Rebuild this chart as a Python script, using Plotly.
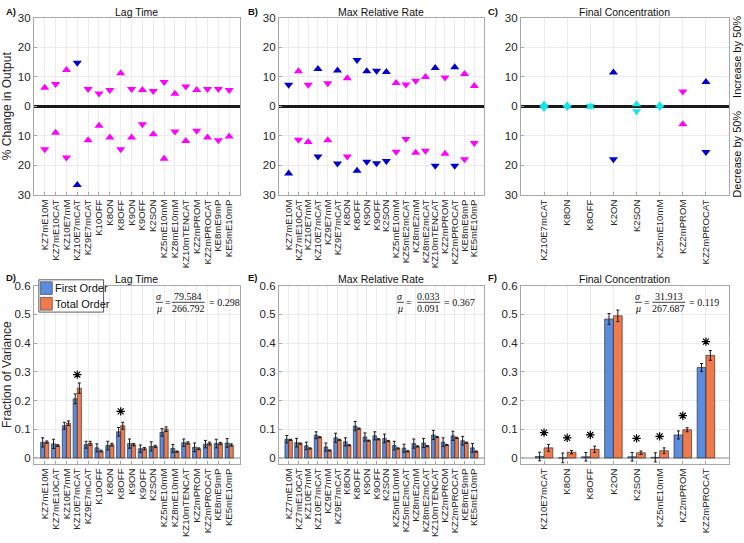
import plotly.graph_objects as go

W, H = 744, 543

# ---------------- data ----------------
cats_A = ["KZ7mE10M", "KZ7mE10CAT", "KZ10E7mM", "KZ10E7mCAT", "KZ9E7mCAT", "K10OFF", "K8ON", "K8OFF",
          "K9ON", "K9OFF", "K2SON", "KZ5mE10mM", "KZ8mE10mM", "KZ10mTENCAT", "KZ2mPROM", "KZ2mPROCAT",
          "KE8mE9mP", "KE5mE10mP"]
A_inc = [6.3, 7.5, 12.3, 14.7, 5.8, 4.3, 5.5, 11.2, 5.8, 5.5, 5.2, 8.2, 4.2, 6.7, 5.5, 5.8, 5.8, 5.5]
A_inc_dir = [1, -1, 1, -1, -1, -1, -1, 1, -1, 1, -1, -1, 1, -1, 1, -1, -1, -1]
A_inc_cls = ["M", "M", "M", "B", "M", "M", "M", "M", "M", "M", "M", "M", "M", "M", "M", "M", "M", "M"]
A_dec = [14.6, 9.0, 17.4, 26.7, 11.5, 6.6, 10.6, 14.6, 10.6, 6.1, 9.5, 17.8, 8.6, 11.8, 8.3, 10.6, 11.5, 10.3]
A_dec_dir = [-1, 1, -1, 1, 1, 1, 1, -1, 1, -1, 1, 1, -1, 1, -1, 1, -1, 1]
A_dec_cls = ["M", "M", "M", "B", "M", "M", "M", "M", "M", "M", "M", "M", "M", "M", "M", "M", "M", "M"]

cats_B = ["KZ7mE10M", "KZ7mE10CAT", "KZ10E7mM", "KZ10E7mCAT", "KZ9E7mM", "KZ9E7mCAT", "K8ON", "K8OFF",
          "K9ON", "K9OFF", "K2SON", "KZ5mE10mM", "KZ5mE2mCAT", "KZ8mE2mM", "KZ8mE2mCAT", "KZ10mTENCAT",
          "KZ2mPROM", "KZ2mPROCAT", "KE8mE9mP", "KE5mE10mP"]
B_inc = [7.3, 11.9, 7.3, 12.6, 7.8, 12.1, 9.5, 15.7, 11.9, 12.0, 11.6, 7.9, 7.4, 8.6, 9.9, 13.0, 9.7, 13.2, 10.9, 6.9]
B_inc_dir = [-1, 1, -1, 1, -1, 1, 1, -1, 1, -1, 1, 1, -1, -1, 1, 1, -1, 1, 1, 1]
B_cls = ["B", "M", "M", "B", "M", "B", "M", "B", "B", "B", "B", "M", "M", "M", "M", "B", "M", "B", "M", "M"]
B_dec = [22.8, 11.4, 12.1, 17.0, 11.5, 19.4, 17.0, 21.9, 18.8, 19.3, 18.6, 15.4, 11.1, 15.8, 15.1, 20.2, 16.1, 20.2, 18.0, 12.5]
B_dec_dir = [1, -1, 1, -1, 1, -1, -1, 1, -1, -1, -1, -1, -1, 1, -1, -1, 1, -1, -1, -1]

cats_C = ["KZ10E7mCAT", "K8ON", "K8OFF", "K2ON", "K2SON", "KZ5mE10mM", "KZ2mPROM", "KZ2mPROCAT"]
C_inc = [0.6, 0.3, 0.2, 11.4, 0.7, 0.3, 5.0, 8.2]
C_inc_dir = [1, 1, -1, 1, 1, 1, -1, 1]
C_inc_cls = ["C", "C", "C", "B", "C", "C", "M", "B"]
C_dec = [0.6, 0.3, 0.2, 18.0, 1.7, 0.3, 6.1, 15.5]
C_dec_dir = [-1, -1, 1, -1, -1, -1, 1, -1]
C_dec_cls = ["C", "C", "C", "B", "C", "C", "M", "B"]

D_first = [0.054, 0.049, 0.112, 0.206, 0.046, 0.035, 0.043, 0.091, 0.050, 0.032, 0.040, 0.089, 0.033, 0.053, 0.037, 0.048, 0.050, 0.052]
D_first_err = [0.016, 0.016, 0.012, 0.017, 0.012, 0.014, 0.015, 0.015, 0.016, 0.013, 0.016, 0.013, 0.014, 0.013, 0.015, 0.013, 0.015, 0.015]
D_total = [0.055, 0.043, 0.121, 0.243, 0.051, 0.024, 0.046, 0.112, 0.046, 0.032, 0.040, 0.100, 0.022, 0.052, 0.032, 0.050, 0.050, 0.045]
D_total_err = [0.004, 0.003, 0.008, 0.018, 0.007, 0.003, 0.005, 0.012, 0.004, 0.004, 0.004, 0.008, 0.002, 0.004, 0.003, 0.005, 0.004, 0.004]
D_star = [None, None, None, 0.29, None, None, None, 0.162, None, None, None, None, None, None, None, None, None, None]

E_first = [0.065, 0.053, 0.042, 0.079, 0.038, 0.070, 0.056, 0.111, 0.073, 0.077, 0.068, 0.043, 0.034, 0.050, 0.052, 0.080, 0.055, 0.077, 0.060, 0.035]
E_first_err = [0.013, 0.015, 0.013, 0.012, 0.014, 0.016, 0.014, 0.016, 0.014, 0.014, 0.015, 0.015, 0.014, 0.016, 0.016, 0.016, 0.015, 0.016, 0.015, 0.015]
E_total = [0.063, 0.050, 0.033, 0.072, 0.026, 0.063, 0.044, 0.102, 0.060, 0.065, 0.059, 0.033, 0.023, 0.040, 0.041, 0.073, 0.045, 0.070, 0.053, 0.022]
E_total_err = [0.002] * 20

F_first = [0.005, 0.000, 0.004, 0.484, 0.004, 0.002, 0.080, 0.315]
F_first_err = [0.015, 0.017, 0.015, 0.019, 0.015, 0.016, 0.014, 0.014]
F_total = [0.035, 0.020, 0.030, 0.495, 0.018, 0.025, 0.098, 0.357]
F_total_err = [0.012, 0.006, 0.011, 0.020, 0.006, 0.010, 0.007, 0.017]
F_star = [0.088, 0.070, 0.080, None, 0.068, 0.075, 0.147, 0.405]

stats = {"D": ("79.584", "266.792", "0.298"), "E": ("0.033", "0.091", "0.367"), "F": ("31.913", "267.687", "0.119")}

top_ticks = [-30, -20, -10, 0, 10, 20, 30]
top_tick_text = ["30", "20", "10", "0", "10", "20", "30"]
bot_ticks = [0, 0.1, 0.2, 0.3, 0.4, 0.5, 0.6]
bot_tick_text = ["0", "0.1", "0.2", "0.3", "0.4", "0.5", "0.6"]

# ---------------- styling ----------------
COL = {"M": "#FF00FF", "B": "#0000D0", "C": "#10E6EC"}
BLUE = "#5B8CDE"
ORANGE = "#EF7A4C"
FONT = "Liberation Sans, Arial, sans-serif"
SERIF = "Liberation Serif, DejaVu Serif, serif"
TXT = "#262626"
FRAME = "#a8a8a8"
GRID = "#ececec"


def px(x):
    return x / W


def py(y):
    return 1 - y / H


cols_x = [(31, 238), (277, 483), (520, 729)]
top_y = (12, 193)
bot_y = (286, 468)

fig = go.Figure()


def sym(d):
    return ["triangle-up" if v > 0 else "triangle-down" for v in d]


def add_scatter(ax, cats, vals, dirs, cls, sign):
    fig.add_trace(go.Scatter(
        x=cats, y=[sign * v for v in vals], mode="markers",
        marker=dict(symbol=sym(dirs), size=8, color=[COL[c] for c in cls], line=dict(width=0)),
        xaxis="x" + ax, yaxis="y" + ax, showlegend=False, hoverinfo="x+y"))


add_scatter("", cats_A, A_inc, A_inc_dir, A_inc_cls, 1)
add_scatter("", cats_A, A_dec, A_dec_dir, A_dec_cls, -1)
add_scatter("2", cats_B, B_inc, B_inc_dir, B_cls, 1)
add_scatter("2", cats_B, B_dec, B_dec_dir, B_cls, -1)
add_scatter("3", cats_C, C_inc, C_inc_dir, C_inc_cls, 1)
add_scatter("3", cats_C, C_dec, C_dec_dir, C_dec_cls, -1)


def add_bars(ax, cats, first, ferr, total, terr, star):
    for vals, errs, col, name in ((first, ferr, BLUE, "First Order"), (total, terr, ORANGE, "Total Order")):
        fig.add_trace(go.Bar(
            x=cats, y=vals, name=name, marker=dict(color=col, line=dict(color="#202020", width=0.6)),
            error_y=dict(type="data", array=errs, visible=True, color="#1a1a1a", thickness=1, width=1.5),
            xaxis="x" + ax, yaxis="y" + ax, showlegend=False, offsetgroup=name))
    if star is not None:
        fig.add_trace(go.Scatter(
            x=cats, y=star, mode="markers",
            marker=dict(symbol="asterisk-open", size=7, color="black", line=dict(width=1.2, color="black")),
            xaxis="x" + ax, yaxis="y" + ax, showlegend=False, hoverinfo="skip"))


add_bars("4", cats_A, D_first, D_first_err, D_total, D_total_err, D_star)
add_bars("5", cats_B, E_first, E_first_err, E_total, E_total_err, None)
add_bars("6", cats_C, F_first, F_first_err, F_total, F_total_err, F_star)

layout = dict(
    width=W, height=H, margin=dict(l=0, r=0, t=0, b=0),
    paper_bgcolor="white", plot_bgcolor="white",
    font=dict(family=FONT, color=TXT, size=11),
    barmode="group", bargap=0.24, bargroupgap=0.0,
)

all_cats = [cats_A, cats_B, cats_C]
for i in range(6):
    row = i // 3
    col = i % 3
    key = "" if i == 0 else str(i + 1)
    cats = all_cats[col]
    x0, x1 = cols_x[col]
    y0, y1 = top_y if row == 0 else bot_y
    layout["xaxis" + key] = dict(
        domain=[px(x0), px(x1)], anchor="y" + key, type="category",
        categoryorder="array", categoryarray=cats, range=[-1, len(cats)],
        tickmode="array", tickvals=cats, ticktext=cats,
        tickangle=-90, tickfont=dict(size=9.6, color=TXT), showgrid=True, gridcolor=GRID, gridwidth=1,
        showline=True, mirror=True, linecolor=FRAME, linewidth=1,
        ticks="inside", ticklen=3, tickcolor=FRAME, zeroline=False, fixedrange=True)
    if row == 0:
        ya = dict(range=[-30, 30], tickvals=top_ticks, ticktext=top_tick_text,
                  zeroline=True, zerolinecolor="#1a1a1a", zerolinewidth=2.5)
    else:
        ya = dict(range=[-0.02, 0.6], tickvals=bot_ticks, ticktext=bot_tick_text,
                  zeroline=True, zerolinecolor="#c4c4c4", zerolinewidth=2)
    ya.update(domain=[py(y1), py(y0)], anchor="x" + key, tickfont=dict(size=11.5, color=TXT),
              showgrid=True, gridcolor=GRID, gridwidth=1, showline=True, mirror=True,
              linecolor=FRAME, linewidth=1, ticks="inside", ticklen=3, tickcolor=FRAME, fixedrange=True)
    if i == 0:
        ya["title"] = dict(text="% Change in Output", font=dict(size=12, color=TXT), standoff=6)
    if i == 3:
        ya["title"] = dict(text="Fraction of Variance", font=dict(size=12, color=TXT), standoff=6)
    layout["yaxis" + key] = ya

fig.update_layout(**layout)

ann = []
shapes = []


def text(x, y, s, size=11, xanchor="center", family=FONT, angle=0, bold=False):
    ann.append(dict(x=px(x), y=py(y), xref="paper", yref="paper", text=("<b>%s</b>" % s) if bold else s,
                    showarrow=False, xanchor=xanchor, yanchor="middle", textangle=angle,
                    font=dict(size=size, family=family, color="#111111")))


titles = ["Lag Time", "Max Relative Rate", "Final Concentration"]
for col in range(3):
    x0, x1 = cols_x[col]
    text((x0 + x1) / 2, 6, titles[col], size=10.5)
    text((x0 + x1) / 2, 279, titles[col], size=10.5)

for lab, (x, y) in zip("ABCDEF", [(1, 6), (244, 6), (485, 6), (1, 278), (244, 278), (485, 278)]):
    text(x, y, lab + ")", size=9.5, xanchor="left", bold=True)

text(737, 52, "Increase by 50%", size=11, angle=-90)
text(737, 152, "Decrease by 50%", size=11, angle=-90)


def line(x0, y0, x1, y1, color="#111111", w=0.8):
    shapes.append(dict(type="line", xref="paper", yref="paper", x0=px(x0), y0=py(y0), x1=px(x1), y1=py(y1),
                       line=dict(color=color, width=w)))


def formula(xs, xeq1, xnum, half, key):
    num, den, res = stats[key]
    fs = 10
    text(xs, 297, "<i>σ</i>", size=fs, family=SERIF)
    text(xs, 309, "<i>μ</i>", size=fs, family=SERIF)
    line(xs - 3.5, 303, xs + 3.5, 303)
    text(xeq1, 303, "=", size=fs, family=SERIF)
    text(xnum, 297, num, size=fs, family=SERIF)
    text(xnum, 309, den, size=fs, family=SERIF)
    line(xnum - half, 303, xnum + half, 303)
    text(xnum + half + 2, 303, "= " + res, size=fs, family=SERIF, xanchor="left")


formula(157, 165.5, 186, 16.5, "D")
formula(399, 408, 427.5, 11.5, "E")
formula(638, 647, 668.5, 16.5, "F")

# legend box for panel D
shapes.append(dict(type="rect", xref="paper", yref="paper", x0=px(36), y0=py(313), x1=px(101), y1=py(280),
                   line=dict(color="#333333", width=0.8), fillcolor="white"))
shapes.append(dict(type="rect", xref="paper", yref="paper", x0=px(37.5), y0=py(295), x1=px(49.5), y1=py(282),
                   line=dict(color="#333333", width=0.6), fillcolor=BLUE))
shapes.append(dict(type="rect", xref="paper", yref="paper", x0=px(37.5), y0=py(311), x1=px(49.5), y1=py(298),
                   line=dict(color="#333333", width=0.6), fillcolor=ORANGE))
text(50.5, 288.5, "First Order", size=11, xanchor="left")
text(50.5, 304.5, "Total Order", size=11, xanchor="left")

fig.update_layout(annotations=ann, shapes=shapes)
# remove the default page margin so the 744x543 figure fills the window exactly
fig.write_html("out.html", config={"displayModeBar": False},
               post_script="document.body.style.margin='0px';")
